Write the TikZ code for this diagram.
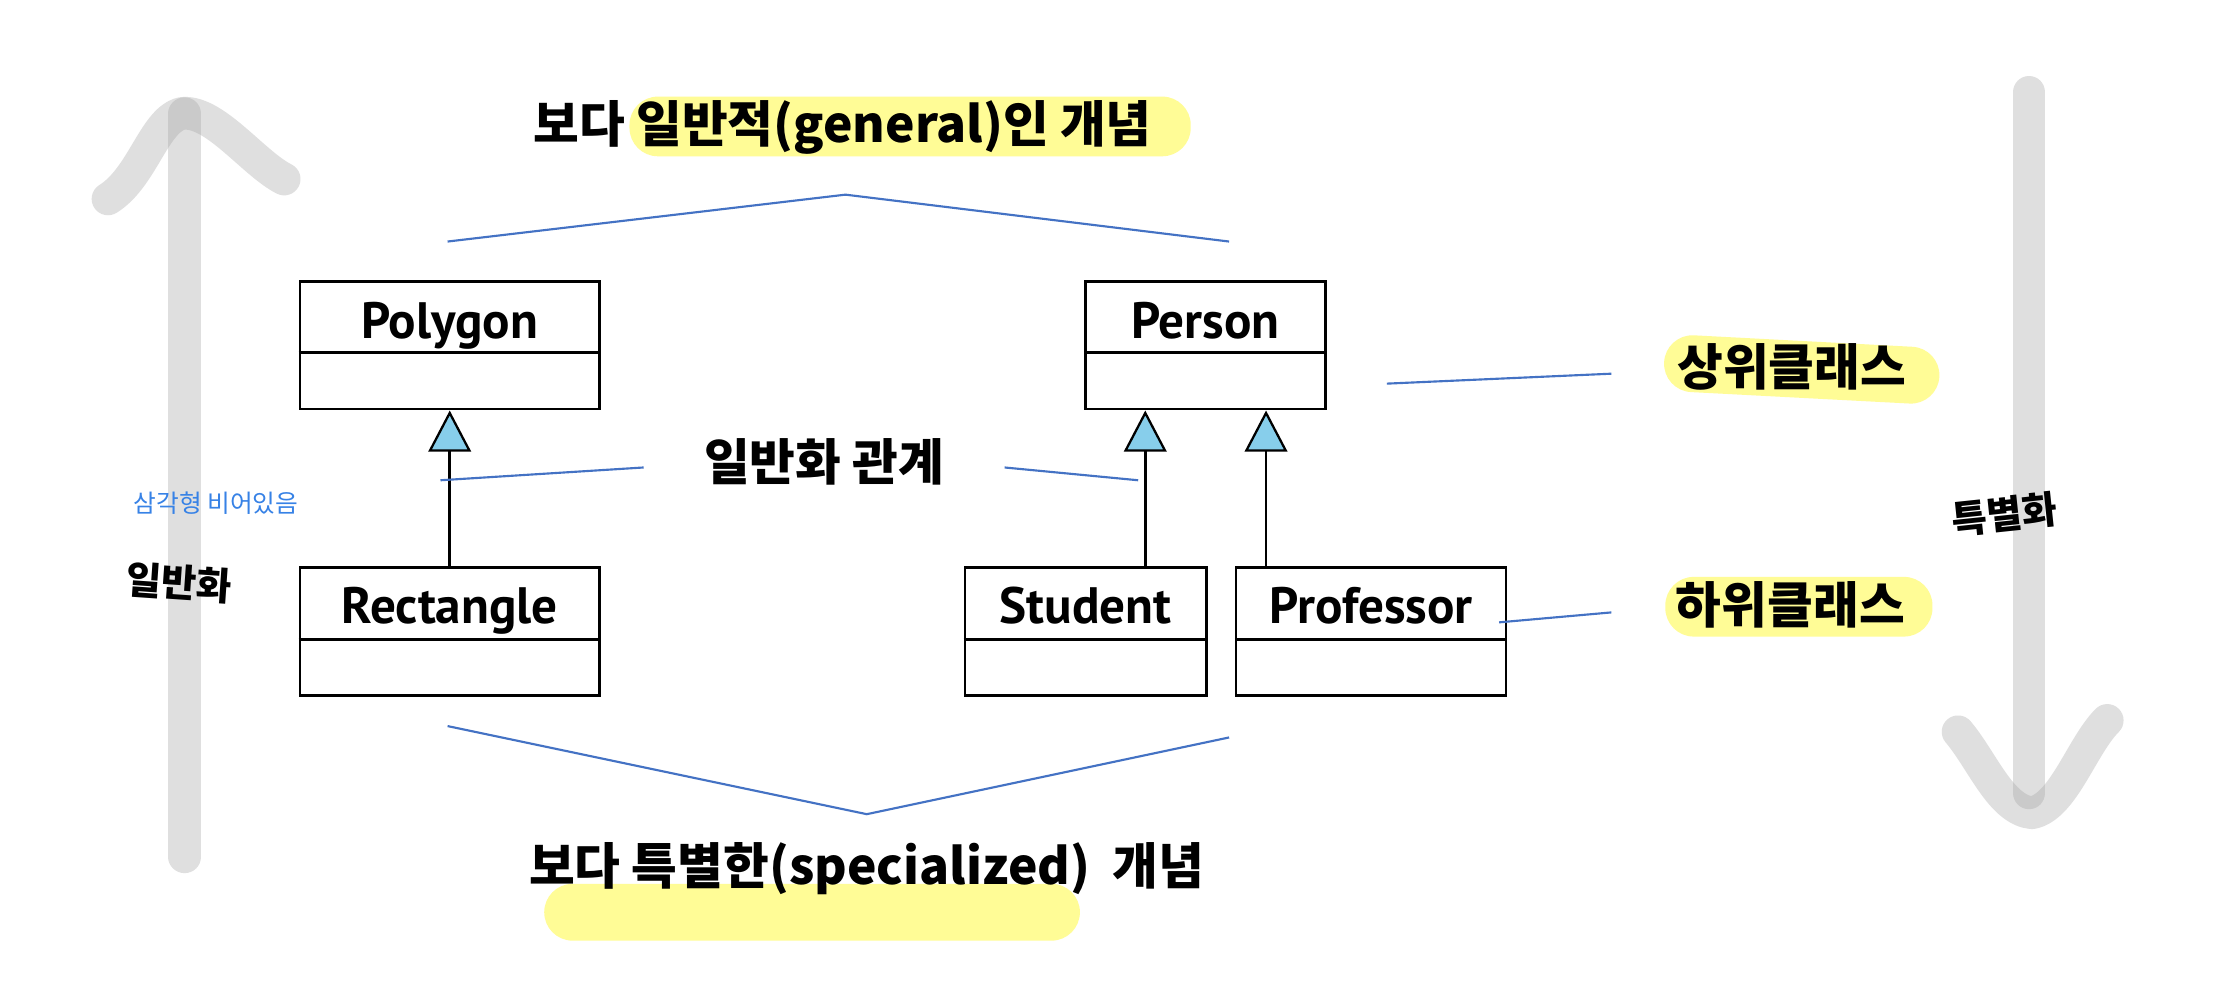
\documentclass[tikz,border=0pt]{standalone}
\usepackage{fontspec}
\newfontfamily\kr{Noto Sans CJK KR}
\newfontfamily\cls{PT Sans}
\usetikzlibrary{arrows.meta}
\definecolor{hl}{RGB}{255,252,150}
\definecolor{bl}{RGB}{68,114,196}
\definecolor{tri}{RGB}{135,206,235}
\definecolor{note}{RGB}{55,130,230}
\definecolor{arr}{RGB}{160,160,160}
\tikzset{
  bigarrow/.style={draw=arr, draw opacity=0.33, line width=11.5pt, line cap=round, line join=round},
  hlbox/.style={fill=hl, draw=none, rounded corners=10pt, inner sep=0pt},
  classbox/.style={draw=black, line width=0.9pt, fill=white, inner sep=0pt, minimum width=#1, minimum height=45pt},
  clsname/.style={font=\cls\bfseries\fontsize{18}{20}\selectfont, anchor=base, inner sep=0pt},
  divider/.style={draw=black, line width=0.9pt},
  inh/.style={draw=black, line width=0.9pt, -{Triangle[length=14.5pt, width=15pt, fill=tri, line width=0.8pt]}},
  anno/.style={draw=bl, line width=0.75pt},
  ktitle/.style={font=\kr\bfseries\fontsize{17.5}{20}\selectfont, inner sep=0pt},
  notetext/.style={font=\kr\fontsize{8.7}{10}\selectfont, text=note, inner sep=0pt},
  hand/.style={font=\kr\bfseries\fontsize{13.5}{15}\selectfont, inner sep=0pt},
}
\begin{document}
\begin{tikzpicture}[x=0.5pt,y=-0.5pt]
\useasboundingbox (0,0) rectangle (1568,704);
\fill[white] (0,0) rectangle (1568,704);

% big gray arrows
\draw[bigarrow] (130,80) -- (130,603);
\draw[bigarrow] (76,140) .. controls (100,125) and (108,86) .. (127,80) .. controls (150,76) and (178,115) .. (200,126);
\draw[bigarrow] (1428,65) -- (1428,558);
\draw[bigarrow] (1378,515) .. controls (1395,535) and (1408,570) .. (1430,572) .. controls (1452,568) and (1465,525) .. (1483,507);

% highlights
\node[hlbox, minimum width=197.5pt, minimum height=21pt] (hlTop) at (640.5,89) {};
\node[hlbox, minimum width=97pt, minimum height=20pt, rotate=-3] (hlSup) at (1268,260) {};
\node[hlbox, minimum width=94pt, minimum height=21pt] (hlSub) at (1266,427) {};
\node[hlbox, minimum width=188.5pt, minimum height=20pt] (hlBot) at (571.5,642) {};

% class boxes
\node[classbox=105.5pt] (poly) at (316.5,243) {};
\node[classbox=84.5pt] (person) at (848.5,243) {};
\node[classbox=105.5pt] (rect) at (316.5,444.5) {};
\node[classbox=85pt] (student) at (764,444.5) {};
\node[classbox=95pt] (prof) at (965,444.5) {};

\draw[divider] (poly.west |- 0,248) -- (poly.east |- 0,248);
\draw[divider] (person.west |- 0,248) -- (person.east |- 0,248);
\draw[divider] (rect.west |- 0,450) -- (rect.east |- 0,450);
\draw[divider] (student.west |- 0,450) -- (student.east |- 0,450);
\draw[divider] (prof.west |- 0,450) -- (prof.east |- 0,450);

\node[clsname] (polyN) at (316.5,238) {Polygon};
\node[clsname] (personN) at (848.5,238) {Person};
\node[clsname] (rectN) at (316.5,439) {Rectangle};
\node[clsname] (studentN) at (764,439) {Student};
\node[clsname] (profN) at (965,439) {Professor};

% generalization arrows
\coordinate (colA) at (806,0);
\coordinate (colB) at (891,0);
\draw[inh] (rect.north) -- (poly.south);
\draw[inh] (student.north -| colA) -- (person.south -| colA);
\draw[inh] (prof.north -| colB) -- (person.south -| colB);

% texts
\node[ktitle] (titleTop) at (593,90) {보다 일반적(general)인 개념};
\node[ktitle] (titleBot) at (610,611) {보다 특별한(specialized)~ 개념};
\node[ktitle] (relation) at (580,325) {일반화 관계};
\node[ktitle] (super) at (1261,258) {상위클래스};
\node[ktitle] (sub) at (1260,426) {하위클래스};
\node[notetext] (note) at (152,354) {삼각형 비어있음};
\node[hand, rotate=-4] (genText) at (126,410) {일반화};
\node[hand, rotate=6] (specText) at (1411,362) {특별화};

% annotation lines
\coordinate (t1) at (315,170); \coordinate (t2) at (595,137); \coordinate (t3) at (865,170);
\draw[anno] (t1) -- (t2) -- (t3);
\coordinate (b1) at (315,511); \coordinate (b2) at (610,573); \coordinate (b3) at (865,519);
\draw[anno] (b1) -- (b2) -- (b3);
\coordinate (r1) at (310,338); \coordinate (r2) at (453,329);
\draw[anno] (r1) -- (r2);
\coordinate (r3) at (707,329); \coordinate (r4) at (801,338);
\draw[anno] (r3) -- (r4);
\coordinate (s1) at (976,270); \coordinate (s2) at (1134,263);
\draw[anno] (s1) -- (s2);
\coordinate (u1) at (1055,438); \coordinate (u2) at (1134,431);
\draw[anno] (u1) -- (u2);
\end{tikzpicture}
\end{document}
